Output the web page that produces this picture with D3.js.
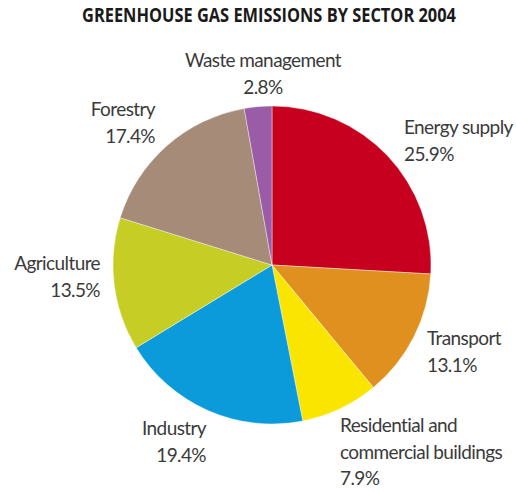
<!DOCTYPE html>
<html>
<head>
<meta charset="utf-8">
<script src="https://cdn.jsdelivr.net/npm/d3@7"></script>
<style>
  html, body { margin: 0; padding: 0; background: #fff; }
  svg { display: block; }
  text { font-family: Lato, "Open Sans", sans-serif; fill: #3a3a3a; }
</style>
</head>
<body>
<svg id="chart" width="516" height="492"></svg>
<script>
// Sector shares of greenhouse gas emissions, 2004 (percent)
const sectors = ["Energy supply", "Transport", "Residential and commercial buildings",
                 "Industry", "Agriculture", "Forestry", "Waste management"];
const shares  = [25.9, 13.1, 7.9, 19.4, 13.5, 17.4, 2.8];
const colors  = ["#c8001f", "#e0901f", "#fae500", "#0b9bdb", "#c6cd24", "#a78b79", "#9a5ba7"];

// Label text lines for each sector (percent line built from the share)
const labelLines = [
  ["Energy supply"],
  ["Transport"],
  ["Residential and", "commercial buildings"],
  ["Industry"],
  ["Agriculture"],
  ["Forestry"],
  ["Waste management"]
];

const title = "GREENHOUSE GAS EMISSIONS BY SECTOR 2004";

const svg = d3.select("#chart");
const cx = 272, cy = 265, r = 159;

svg.append("text")
  .attr("x", 269).attr("y", 22)
  .attr("text-anchor", "middle")
  .attr("textLength", 374).attr("lengthAdjust", "spacingAndGlyphs")
  .style("font-family", "'Open Sans', sans-serif")
  .style("font-weight", 700)
  .style("font-size", "19px")
  .style("fill", "#1a1a1a")
  .text(title);

const data = sectors.map((s, i) => ({ sector: s, share: shares[i], color: colors[i], lines: labelLines[i] }));

const pie = d3.pie().value(d => d.share).sort(null);
const arc = d3.arc().innerRadius(0).outerRadius(r);

const g = svg.append("g").attr("transform", `translate(${cx},${cy})`);
const arcs = pie(data);

g.selectAll("path")
  .data(arcs)
  .join("path")
  .attr("d", arc)
  .attr("fill", d => d.data.color)
  .attr("stroke", "#fff")
  .attr("stroke-width", 0.4);

// Label anchors: placement beside each slice
const labelPos = [
  { x: 404, y: 134, anchor: "start" },
  { x: 427, y: 345, anchor: "start" },
  { x: 340, y: 432, anchor: "start" },
  { x: 206, y: 435, anchor: "end" },
  { x: 100, y: 270, anchor: "end" },
  { x: 155, y: 116, anchor: "end" },
  { x: 263, y: 67,  anchor: "middle" }
];

const lineH = 26.5;
data.forEach((d, i) => {
  const p = labelPos[i];
  const t = svg.append("text")
    .attr("x", p.x).attr("y", p.y)
    .attr("text-anchor", p.anchor)
    .style("font-size", "19px")
    .style("letter-spacing", "-0.6px");
  const lines = d.lines.concat([d.share.toFixed(1) + "%"]);
  lines.forEach((ln, k) => {
    t.append("tspan")
      .attr("x", p.x)
      .attr("dy", k === 0 ? 0 : lineH)
      .text(ln);
  });
});
</script>
</body>
</html>
